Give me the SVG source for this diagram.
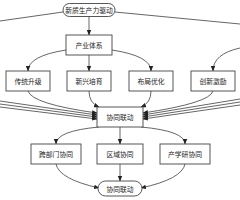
<svg xmlns="http://www.w3.org/2000/svg" width="240" height="200" viewBox="0 0 240 200">
<style>
.n rect{fill:#fff;stroke:#444;stroke-width:0.9}
.n text{font-family:"Noto Sans CJK SC","Noto Sans",sans-serif;font-size:6.8px;fill:#222;text-anchor:middle;dominant-baseline:central}
.e path{fill:none;stroke:#333;stroke-width:0.75;marker-end:url(#a)}
.e path.p{marker-end:none}
</style>
<defs>
<marker id="a" viewBox="0 0 10 10" refX="9" refY="5" markerWidth="5.5" markerHeight="5.5" markerUnits="userSpaceOnUse" orient="auto">
<path d="M0,1 L10,5 L0,9 z" fill="#222"/>
</marker>
</defs>
<rect width="240" height="200" fill="#fff"/>
<g class="e" id="edges">
<path class="p" d="M63,12 L0,21"/>
<path class="p" d="M115,12 L240,24"/>
<path d="M89,16 L89,35"/>
<path d="M66,50 Q28,56 28,71"/>
<path d="M89,55 L89,71"/>
<path d="M112,50 Q151,56 151,71"/>
<path d="M240,48 Q213,54 213,71"/>
<path d="M28,91 Q32,104 97,113"/>
<path d="M0,101 L97,115"/>
<path d="M0,104 L97,117"/>
<path d="M0,107 L97,119"/>
<path d="M89,91 Q89,103 99,107"/>
<path d="M151,91 Q151,103 141,107"/>
<path d="M213,91 Q210,103 143,113"/>
<path d="M240,99 L143,115"/>
<path d="M240,102 L143,117"/>
<path d="M240,105 L143,119"/>
<path d="M99,127 Q56,131 56,144"/>
<path d="M120,127 L120,144"/>
<path d="M141,127 Q185,131 185,144"/>
<path d="M56,164 Q59,179 99,188"/>
<path d="M120,164 L120,181"/>
<path d="M185,164 Q182,179 141,188"/>
</g>
<g class="n" id="n0"><rect x="63" y="3.5" width="52" height="13" rx="6.5"/><text x="89" y="10">新质生产力驱动</text></g>
<g class="n" id="n1"><rect x="66" y="35" width="46" height="20"/><text x="89" y="45">产业体系</text></g>
<g class="n" id="n2"><rect x="6" y="71" width="44" height="20"/><text x="28" y="81">传统升级</text></g>
<g class="n" id="n3"><rect x="67" y="71" width="44" height="20"/><text x="89" y="81">新兴培育</text></g>
<g class="n" id="n4"><rect x="129" y="71" width="44" height="20"/><text x="151" y="81">布局优化</text></g>
<g class="n" id="n5"><rect x="191" y="71" width="44" height="20"/><text x="213" y="81">创新激励</text></g>
<g class="n" id="n6"><rect x="97" y="107" width="46" height="20"/><text x="120" y="117">协同联动</text></g>
<g class="n" id="n7"><rect x="31" y="144" width="50" height="20"/><text x="56" y="154">跨部门协同</text></g>
<g class="n" id="n8"><rect x="97" y="144" width="46" height="20"/><text x="120" y="154">区域协同</text></g>
<g class="n" id="n9"><rect x="160" y="144" width="50" height="20"/><text x="185" y="154">产学研协同</text></g>
<g class="n" id="n10"><rect x="98" y="181" width="44" height="15" rx="7.5"/><text x="120" y="188.5">协同联动</text></g>
</svg>
